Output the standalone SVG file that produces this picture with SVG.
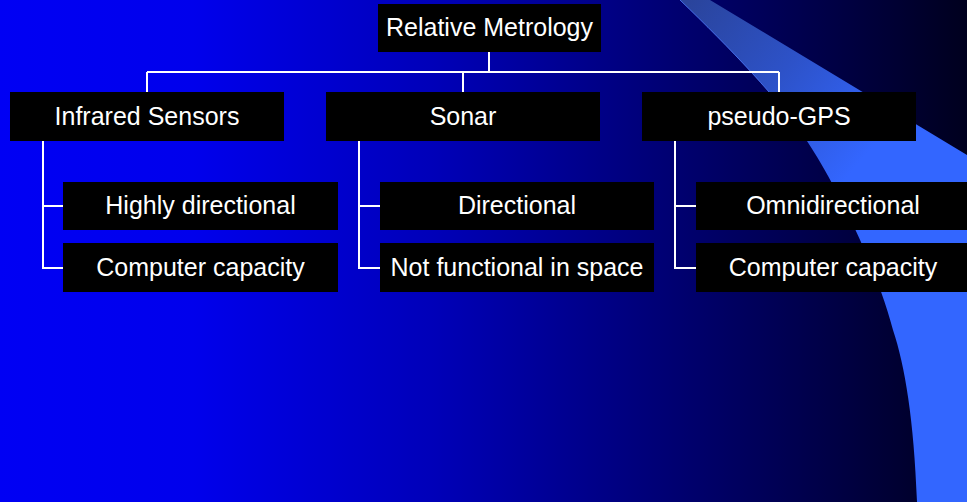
<svg xmlns="http://www.w3.org/2000/svg" width="967" height="502" viewBox="0 0 967 502">
  <defs>
    <linearGradient id="bg" x1="0" y1="0" x2="967" y2="0" gradientUnits="userSpaceOnUse">
      <stop offset="0" stop-color="#0000F4"/>
      <stop offset="0.2" stop-color="#0000EC"/>
      <stop offset="0.45" stop-color="#0000B8"/>
      <stop offset="0.7" stop-color="#000070"/>
      <stop offset="0.88" stop-color="#000040"/>
      <stop offset="1" stop-color="#00001E"/>
    </linearGradient>
    <linearGradient id="wedge" x1="690" y1="0" x2="870" y2="150" gradientUnits="userSpaceOnUse">
      <stop offset="0" stop-color="#2A449C"/>
      <stop offset="0.5" stop-color="#2D52C8"/>
      <stop offset="1" stop-color="#3366FF"/>
    </linearGradient>
    <style>
      .box { fill: #000000; }
      .lbl { font-family: "Liberation Sans", Arial, sans-serif; font-size: 25px; fill: #FFFFFF; text-anchor: middle; }
      .conn { stroke: #FFFFFF; stroke-width: 2; fill: none; }
    </style>
  </defs>

  <rect x="0" y="0" width="967" height="502" fill="url(#bg)"/>
  <path d="M680,0 L710,0 L967,155 L967,502 L917,502 C914,420 905,366 893,330 C875,262 834,182 807,141 C780,100 730,48 680,0 Z" fill="url(#wedge)"/>
  <path d="M680,0 C730,48 780,100 807,141" stroke="#4F7CFF" stroke-width="1" fill="none" opacity="0.8"/>

  <g id="connectors">
    <path class="conn" d="M489,52 V72 M147,72 H779 M147,72 V92 M463,72 V92 M779,72 V92"/>
    <path class="conn" d="M43,141 V268 H63 M43,206 H63"/>
    <path class="conn" d="M359,141 V268 H380 M359,206 H380"/>
    <path class="conn" d="M675,141 V268 H696 M675,206 H696"/>
  </g>

  <g id="root">
    <rect class="box" x="378" y="4" width="223" height="48"/>
    <text class="lbl" x="489.5" y="36">Relative Metrology</text>
  </g>

  <g id="infrared">
    <rect class="box" x="10" y="92" width="274" height="49"/>
    <text class="lbl" x="147" y="125">Infrared Sensors</text>
  </g>
  <g id="sonar">
    <rect class="box" x="326" y="92" width="274" height="49"/>
    <text class="lbl" x="463" y="125">Sonar</text>
  </g>
  <g id="pseudogps">
    <rect class="box" x="642" y="92" width="274" height="49"/>
    <text class="lbl" x="779" y="125">pseudo-GPS</text>
  </g>

  <g id="ir-directional">
    <rect class="box" x="63" y="182" width="275" height="48"/>
    <text class="lbl" x="200.5" y="214">Highly directional</text>
  </g>
  <g id="ir-capacity">
    <rect class="box" x="63" y="243" width="275" height="49"/>
    <text class="lbl" x="200.5" y="276">Computer capacity</text>
  </g>

  <g id="sonar-directional">
    <rect class="box" x="380" y="182" width="274" height="48"/>
    <text class="lbl" x="517" y="214">Directional</text>
  </g>
  <g id="sonar-space">
    <rect class="box" x="380" y="243" width="274" height="49"/>
    <text class="lbl" x="517" y="276">Not functional in space</text>
  </g>

  <g id="gps-omni">
    <rect class="box" x="696" y="182" width="274" height="48"/>
    <text class="lbl" x="833" y="214">Omnidirectional</text>
  </g>
  <g id="gps-capacity">
    <rect class="box" x="696" y="243" width="274" height="49"/>
    <text class="lbl" x="833" y="276">Computer capacity</text>
  </g>
</svg>
